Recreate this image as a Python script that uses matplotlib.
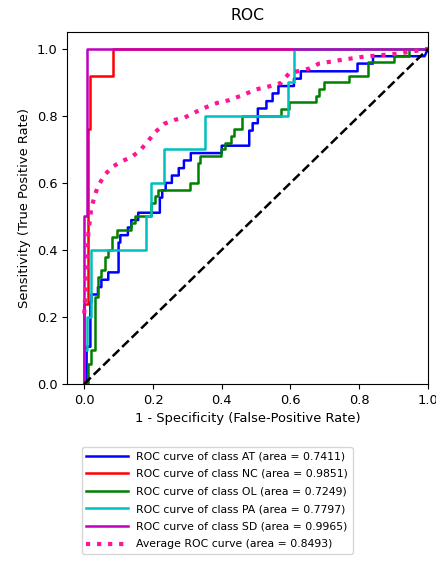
import numpy as np
import matplotlib
matplotlib.use("Agg")
import matplotlib.pyplot as plt

plt.rcParams['font.size'] = 9.4

class_names = ['AT', 'NC', 'OL', 'PA', 'SD']
class_auc = [0.7411, 0.9851, 0.7249, 0.7797, 0.9965]
avg_auc = 0.8493
colors = ['blue', 'red', 'green', 'c', 'm']

# ROC corner points (fpr, tpr) for each class
fpr_at = [0, 0.007, 0.007, 0.018, 0.018, 0.021, 0.021, 0.04, 0.04, 0.05, 0.05, 0.07, 0.07,
          0.1, 0.1, 0.105, 0.105, 0.127, 0.127, 0.137, 0.137, 0.157, 0.157, 0.22, 0.22,
          0.227, 0.227, 0.237, 0.237, 0.255, 0.255, 0.275, 0.275, 0.29, 0.29, 0.31, 0.31,
          0.4, 0.4, 0.48, 0.48, 0.49, 0.49, 0.505, 0.505, 0.53, 0.53, 0.548, 0.548, 0.565,
          0.565, 0.61, 0.61, 0.63, 0.63, 0.795, 0.795, 0.84, 0.84, 0.99, 1.0]
tpr_at = [0, 0, 0.111, 0.111, 0.244, 0.244, 0.267, 0.267, 0.289, 0.289, 0.311, 0.311, 0.333,
          0.333, 0.422, 0.422, 0.444, 0.444, 0.467, 0.467, 0.489, 0.489, 0.511, 0.511, 0.556,
          0.556, 0.578, 0.578, 0.6, 0.6, 0.622, 0.622, 0.644, 0.644, 0.667, 0.667, 0.689,
          0.689, 0.711, 0.711, 0.756, 0.756, 0.778, 0.778, 0.822, 0.822, 0.844, 0.844, 0.867,
          0.867, 0.889, 0.889, 0.911, 0.911, 0.933, 0.933, 0.956, 0.956, 0.978, 0.978, 1.0]

fpr_nc = [0, 0, 0.01, 0.01, 0.017, 0.017, 0.085, 0.085, 1.0]
tpr_nc = [0, 0.24, 0.24, 0.76, 0.76, 0.92, 0.92, 1.0, 1.0]

fpr_ol = [0, 0.01, 0.01, 0.019, 0.019, 0.032, 0.032, 0.04, 0.04, 0.05, 0.05, 0.06, 0.06,
          0.07, 0.07, 0.082, 0.082, 0.094, 0.094, 0.137, 0.137, 0.147, 0.147, 0.195, 0.195,
          0.205, 0.205, 0.215, 0.215, 0.307, 0.307, 0.33, 0.33, 0.338, 0.338, 0.398, 0.398,
          0.41, 0.41, 0.427, 0.427, 0.437, 0.437, 0.46, 0.46, 0.572, 0.572, 0.596, 0.596,
          0.673, 0.673, 0.683, 0.683, 0.698, 0.698, 0.77, 0.77, 0.825, 0.825, 0.9, 0.9,
          0.944, 0.944, 1.0]
tpr_ol = [0, 0, 0.06, 0.06, 0.1, 0.1, 0.26, 0.26, 0.32, 0.32, 0.34, 0.34, 0.38, 0.38, 0.4,
          0.4, 0.44, 0.44, 0.46, 0.46, 0.48, 0.48, 0.5, 0.5, 0.54, 0.54, 0.56, 0.56, 0.58,
          0.58, 0.6, 0.6, 0.66, 0.66, 0.68, 0.68, 0.7, 0.7, 0.72, 0.72, 0.74, 0.74, 0.76,
          0.76, 0.8, 0.8, 0.82, 0.82, 0.84, 0.84, 0.86, 0.86, 0.88, 0.88, 0.9, 0.9, 0.92,
          0.92, 0.96, 0.96, 0.98, 0.98, 1.0, 1.0]

fpr_pa = [0, 0, 0.009, 0.009, 0.02, 0.02, 0.18, 0.18, 0.193, 0.193, 0.232, 0.232, 0.35, 0.35,
          0.594, 0.594, 0.609, 0.609, 1.0]
tpr_pa = [0, 0.1, 0.1, 0.2, 0.2, 0.4, 0.4, 0.5, 0.5, 0.6, 0.6, 0.7, 0.7, 0.8, 0.8, 0.9, 0.9,
          1.0, 1.0]

fpr_sd = [0, 0, 0.007, 0.007, 1.0]
tpr_sd = [0, 0.5, 0.5, 1.0, 1.0]

# macro-average curve
fpr_avg = [0, 0.007, 0.012, 0.02, 0.03, 0.04, 0.06, 0.084, 0.108, 0.137, 0.161, 0.186, 0.205,
           0.234, 0.263, 0.292, 0.345, 0.388, 0.422, 0.461, 0.5, 0.538, 0.572, 0.596, 0.654,
           0.683, 0.741, 0.809, 0.862, 0.915, 1.0]
tpr_avg = [0.21, 0.33, 0.45, 0.52, 0.56, 0.59, 0.625, 0.649, 0.664, 0.677, 0.695, 0.725, 0.75,
           0.777, 0.788, 0.795, 0.822, 0.839, 0.847, 0.862, 0.879, 0.888, 0.898, 0.927, 0.941,
           0.956, 0.966, 0.976, 0.981, 0.986, 1.0]

fprs = [fpr_at, fpr_nc, fpr_ol, fpr_pa, fpr_sd]
tprs = [tpr_at, tpr_nc, tpr_ol, tpr_pa, tpr_sd]

fig = plt.figure(figsize=(4.36, 5.63), dpi=100)
ax = fig.add_axes([0.1537, 0.318, 0.828, 0.625])

for name, fpr, tpr, auc, col in zip(class_names, fprs, tprs, class_auc, colors):
    ax.plot(fpr, tpr, color=col, lw=1.8,
            label='ROC curve of class {0} (area = {1:0.4f})'.format(name, auc))

ax.plot(fpr_avg, tpr_avg, color='deeppink', linestyle=':', lw=3,
        label='Average ROC curve (area = {0:0.4f})'.format(avg_auc))
ax.plot([0, 1], [0, 1], 'k--', lw=1.8)

ax.set_xlim([-0.05, 1.0])
ax.set_ylim([0.0, 1.05])
ax.set_xlabel('1 - Specificity (False-Positive Rate)')
ax.set_ylabel('Sensitivity (True Positive Rate)')
ax.set_title('ROC', pad=9)

fig.legend(*ax.get_legend_handles_labels(), loc='upper left',
           bbox_to_anchor=(82 / 436, 1 - 447 / 563), borderaxespad=0,
           fontsize='small', handlelength=3.8, labelspacing=0.7)

fig.savefig('out.png', dpi=100)
